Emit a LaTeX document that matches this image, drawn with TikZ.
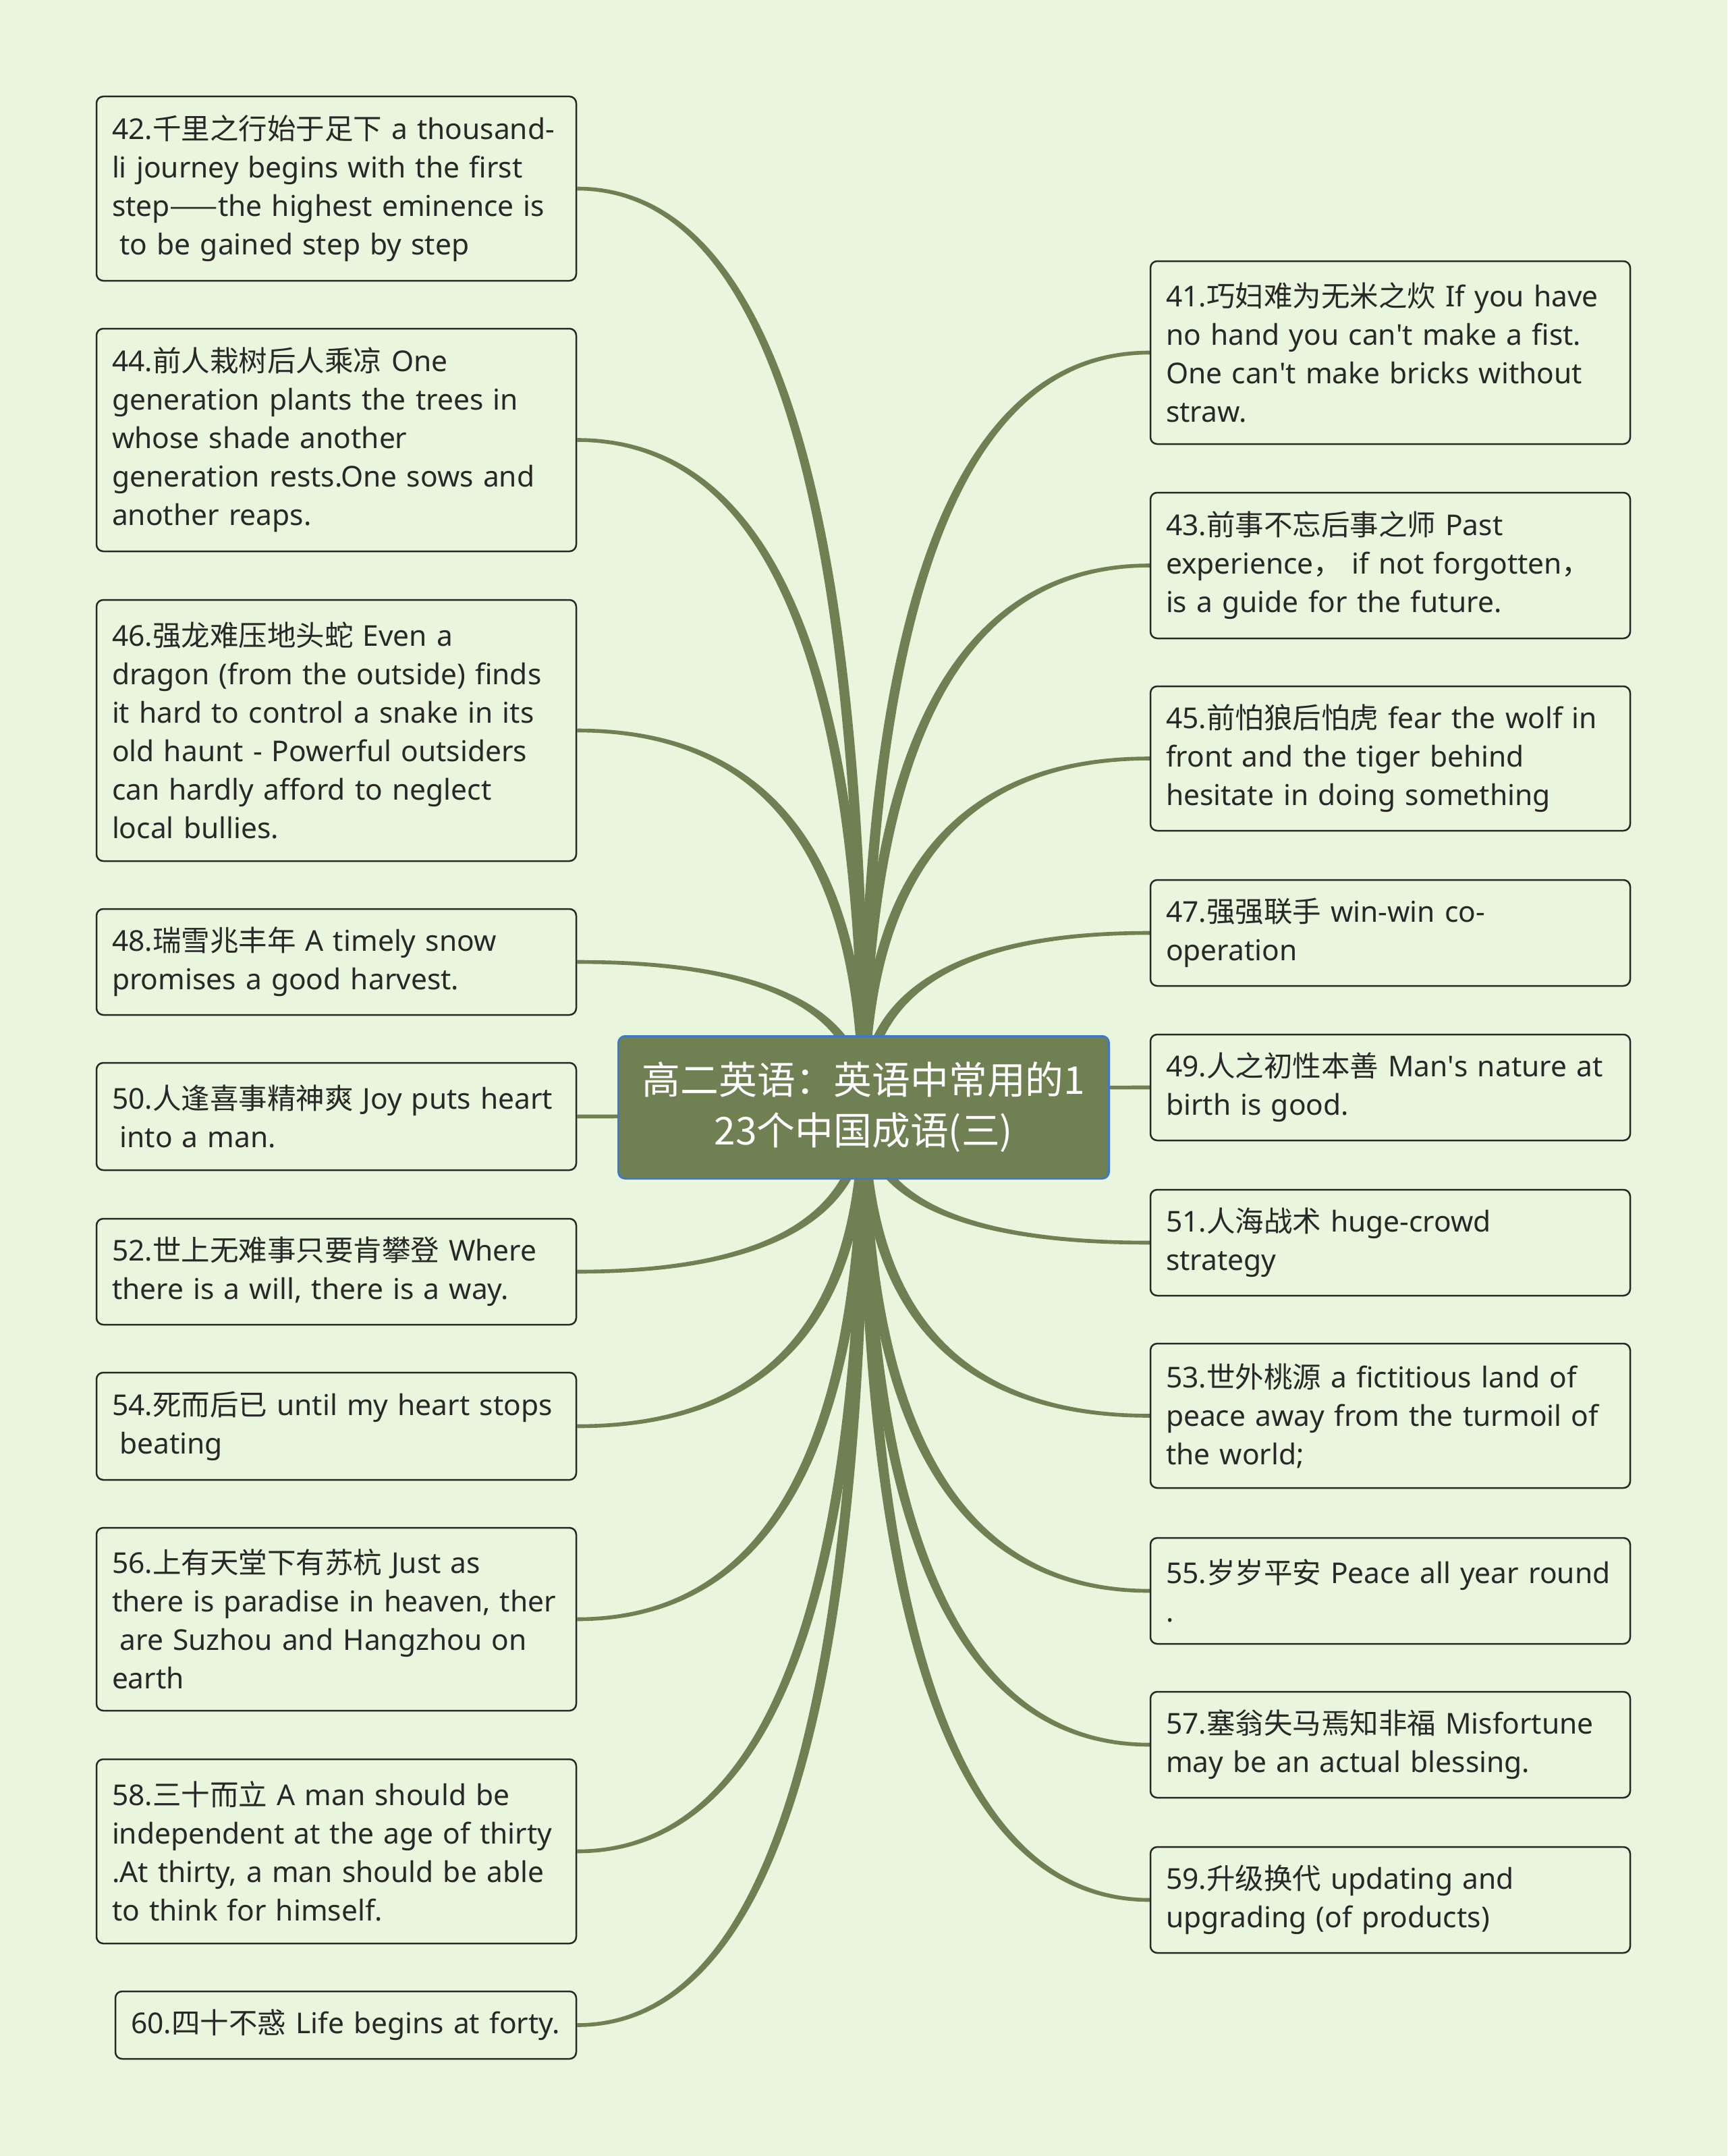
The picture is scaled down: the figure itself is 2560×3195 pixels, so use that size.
\documentclass[tikz,border=0pt]{standalone}
\usepackage{fontspec}
\setmainfont{Noto Sans}
\newfontfamily\plainfont{Noto Sans}[Ligatures=TeXOff]
\newfontfamily\cjk{Noto Sans CJK SC}
\usetikzlibrary{calc}
\definecolor{bg}{RGB}{233,245,220}
\definecolor{olive}{RGB}{111,128,82}
\definecolor{cborder}{RGB}{62,122,200}
\definecolor{leafborder}{RGB}{40,40,40}
\definecolor{txt}{RGB}{40,40,40}
\pgfdeclarelayer{bglayer}
\pgfdeclarelayer{connlayer}
\pgfsetlayers{bglayer,connlayer,main}
\newcommand\leaffont{\fontsize{21.25}{28.5}\selectfont}
\newcommand\hubfont{\fontsize{28.4}{37.5}\selectfont}
\def\ta{3.9pt}
\def\tb{1.4pt}
\tikzset{
  x=0.5pt, y=-0.5pt,
  leafbox/.style={draw=leafborder, line width=1.25pt, rounded corners=5pt, fill=bg,
    inner xsep=11.5pt, inner ysep=0pt, align=left, text=txt, font=\leaffont},
  hub/.style={draw=cborder, line width=1.5pt, rounded corners=5pt, fill=olive,
    text=white, align=center, font=\hubfont, inner sep=0pt},
  connfill/.style={fill=olive, draw=none}
}
\newcommand\leafnode[6]{%
  \pgfmathsetmacro\lw{(#4-#2)*0.5}%
  \pgfmathsetmacro\lh{(#5-#3)*0.5}%
  \pgfmathsetmacro\tw{(#4-#2)*0.5-23}%
  \node[leafbox, minimum width=\lw pt, minimum height=\lh pt, text width=\tw pt]
    (#1) at ({(#2+#4)/2},{(#3+#5)/2}) {#6};}
\newcommand\conn[2]{%
  \fill[connfill] let \p1=(#1.center), \p2=(#2),
    \n1={sign(\x2-\x1)}, \n2={sign(\y2-\y1+0.001)} in
    ({\x1+(\n1)*\ta},{\y1})
    .. controls ({\x1+(\n1)*\ta},{\y1+2/3*(\y2-(\n2)*\tb-\y1)})
    and ({\x2+2/3*(\x1+(\n1)*\ta-\x2)},{\y2-(\n2)*\tb}) ..
    ({\x2},{\y2-(\n2)*\tb})
    -- ({\x2},{\y2+(\n2)*\tb})
    .. controls ({\x2+2/3*(\x1-(\n1)*\ta-\x2)},{\y2+(\n2)*\tb})
    and ({\x1-(\n1)*\ta},{\y1+2/3*(\y2+(\n2)*\tb-\y1)}) ..
    ({\x1-(\n1)*\ta},{\y1}) -- cycle;}
\newcommand\lsp{\hspace*{0.27em}}
\newcommand\apo{{\plainfont '}}
\begin{document}
\begin{tikzpicture}
\begin{pgfonlayer}{bglayer}
\fill[bg] (0,0) rectangle (2560,3195);
\end{pgfonlayer}
\useasboundingbox (0,0) rectangle (2560,3195);

\node[hub, minimum width=363.5pt, minimum height=105.5pt] (C) at (1280,1641)
  {{\cjk 高二英语：英语中常用的1}\\{\cjk 23个中国成语(三)}};

% left column
\leafnode{L42}{143}{143}{854}{416}{42.{\cjk 千里之行始于足下} a thousand-\\li journey begins with the first\\step{\cjk ——}the highest eminence is\\\lsp to be gained step by step}
\leafnode{L44}{143}{487}{854}{817}{44.{\cjk 前人栽树后人乘凉} One\\generation plants the trees in\\whose shade another\\generation rests.One sows and\\another reaps.}
\leafnode{L46}{143}{889}{854}{1276}{46.{\cjk 强龙难压地头蛇} Even a\\dragon (from the outside) finds\\it hard to control a snake in its\\old haunt - Powerful outsiders\\can hardly afford to neglect\\local bullies.}
\leafnode{L48}{143}{1347}{854}{1504}{48.{\cjk 瑞雪兆丰年} A timely snow\\promises a good harvest.}
\leafnode{L50}{143}{1575}{854}{1734}{50.{\cjk 人逢喜事精神爽} Joy puts heart\\\lsp into a man.}
\leafnode{L52}{143}{1806}{854}{1963}{52.{\cjk 世上无难事只要肯攀登} Where\\there is a will, there is a way.}
\leafnode{L54}{143}{2034}{854}{2193}{54.{\cjk 死而后已} until my heart stops\\\lsp beating}
\leafnode{L56}{143}{2264}{854}{2535}{56.{\cjk 上有天堂下有苏杭} Just as\\there is paradise in heaven, ther\\\lsp are Suzhou and Hangzhou on\\earth}
\leafnode{L58}{143}{2607}{854}{2880}{58.{\cjk 三十而立} A man should be\\independent at the age of thirty\\.At thirty, a man should be able\\to think for himself.}
\leafnode{L60}{171}{2951}{854}{3051}{60.{\cjk 四十不惑} Life begins at forty.}

% right column
\leafnode{R41}{1705}{387}{2416}{658}{41.{\cjk 巧妇难为无米之炊} If you have\\no hand you can\apo t make a fist.\\One can\apo t make bricks without\\straw.}
\leafnode{R43}{1705}{730}{2416}{946}{43.{\cjk 前事不忘后事之师} Past\\experience{\cjk ，} if not forgotten{\cjk ，}\\is a guide for the future.}
\leafnode{R45}{1705}{1017}{2416}{1231}{45.{\cjk 前怕狼后怕虎} fear the wolf in\\front and the tiger behind\\hesitate in doing something}
\leafnode{R47}{1705}{1304}{2416}{1461}{47.{\cjk 强强联手} win-win co-\\operation}
\leafnode{R49}{1705}{1533}{2416}{1690}{49.{\cjk 人之初性本善} Man\apo s nature at\\birth is good.}
\leafnode{R51}{1705}{1763}{2416}{1920}{51.{\cjk 人海战术} huge-crowd\\strategy}
\leafnode{R53}{1705}{1991}{2416}{2205}{53.{\cjk 世外桃源} a fictitious land of\\peace away from the turmoil of\\the world;}
\leafnode{R55}{1705}{2279}{2416}{2436}{55.{\cjk 岁岁平安} Peace all year round\\.}
\leafnode{R57}{1705}{2507}{2416}{2664}{57.{\cjk 塞翁失马焉知非福} Misfortune\\may be an actual blessing.}
\leafnode{R59}{1705}{2737}{2416}{2894}{59.{\cjk 升级换代} updating and\\upgrading (of products)}

\begin{pgfonlayer}{connlayer}
\foreach \nm in {L42,L44,L46,L48,L50,L52,L54,L56,L58,L60} {\conn{C}{\nm.east}}
\foreach \nm in {R41,R43,R45,R47,R49,R51,R53,R55,R57,R59} {\conn{C}{\nm.west}}
\end{pgfonlayer}
\end{tikzpicture}
\end{document}
